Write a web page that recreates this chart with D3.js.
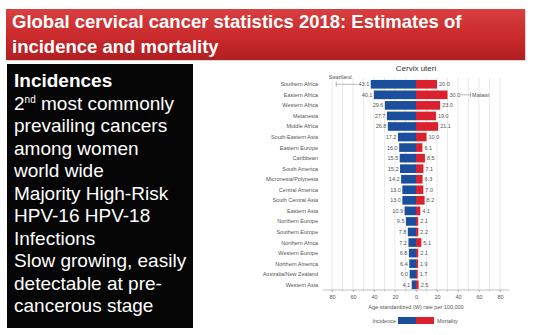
<!DOCTYPE html>
<html>
<head>
<meta charset="utf-8">
<script src="https://cdn.jsdelivr.net/npm/d3@7"></script>
<style>
  body { margin: 0; background: #fff; }
  svg { display: block; font-family: "Liberation Sans", Arial, sans-serif; }
</style>
</head>
<body>
<svg id="slide" width="534" height="335"></svg>
<script>
// regions, top to bottom
var regions = ["Southern Africa", "Eastern Africa", "Western Africa", "Melanesia", "Middle Africa",
  "South-Eastern Asia", "Eastern Europe", "Caribbean", "South America", "Micronesia/Polynesia",
  "Central America", "South Central Asia", "Eastern Asia", "Northern Europe", "Southern Europe",
  "Northern Africa", "Western Europe", "Northern America", "Australia/New Zealand", "Western Asia"];
var incidence = [43.1, 40.1, 29.6, 27.7, 26.8, 17.2, 16.0, 15.5, 15.2, 14.2,
  13.0, 13.0, 10.9, 9.5, 7.8, 7.2, 6.8, 6.4, 6.0, 4.1];
var mortality = [20.0, 30.0, 23.0, 19.0, 21.1, 10.0, 6.1, 8.5, 7.1, 6.3,
  7.0, 8.2, 4.1, 2.1, 2.2, 5.1, 2.1, 1.9, 1.7, 2.5];
var tickVals = [-80, -60, -40, -20, 0, 20, 40, 60, 80];
// country extremes shown as markers
var swaziland = 76.0;   // incidence, Southern Africa row
var malawi = 52.0;      // mortality, Eastern Africa row

var titleLines = ["Global cervical cancer statistics 2018: Estimates of", "incidence and mortality"];

var svg = d3.select("#slide");

// title bar
var defs = svg.append("defs");
var grad = defs.append("linearGradient").attr("id", "redbar")
  .attr("x1", 0).attr("y1", 0).attr("x2", 0).attr("y2", 1);
grad.append("stop").attr("offset", "0%").attr("stop-color", "#d8403f");
grad.append("stop").attr("offset", "55%").attr("stop-color", "#c9292b");
grad.append("stop").attr("offset", "100%").attr("stop-color", "#b21f22");

svg.append("rect").attr("x", 7).attr("y", 10).attr("width", 519).attr("height", 51)
  .attr("fill", "#999").attr("opacity", 0.4);
svg.append("rect").attr("x", 6).attr("y", 9).attr("width", 519).attr("height", 51)
  .attr("fill", "url(#redbar)");

svg.selectAll(".title").data(titleLines).enter().append("text")
  .attr("x", 12)
  .attr("y", function (d, i) { return 28 + i * 25; })
  .attr("fill", "#fff")
  .attr("font-size", 18.5)
  .attr("font-weight", "bold")
  .text(function (d) { return d; });

// black text box
svg.append("rect").attr("x", 7).attr("y", 64).attr("width", 186).attr("height", 264).attr("fill", "#050505");

var bullets = [null, "prevailing cancers", "among women", "world wide", "Majority High-Risk",
  "HPV-16 HPV-18", "Infections", "Slow growing, easily", "detectable at pre-", "cancerous stage"];
var lineY = function (i) { return 87 + i * 22.5; };

svg.append("text").attr("x", 14).attr("y", lineY(0)).attr("fill", "#fff")
  .attr("font-size", 19).attr("font-weight", "bold").text("Incidences");

var l2 = svg.append("text").attr("x", 14).attr("y", lineY(1)).attr("fill", "#fff").attr("font-size", 19);
l2.append("tspan").text("2");
l2.append("tspan").attr("font-size", 10).attr("dy", -7).text("nd");
l2.append("tspan").attr("dy", 7).text(" most commonly");

bullets.forEach(function (t, i) {
  if (t === null) return;
  svg.append("text").attr("x", 14).attr("y", lineY(i + 1)).attr("fill", "#fff")
    .attr("font-size", 19).text(t);
});

// chart
var x = d3.scaleLinear().domain([-80, 80]).range([332, 500]);
var y = d3.scaleBand().domain(regions).range([79, 290]).paddingInner(0.18).paddingOuter(0.09);
var axisY = 290;
var gray = "#555";

svg.append("text").attr("x", x(0)).attr("y", 71).attr("text-anchor", "middle")
  .attr("font-size", 8).attr("fill", "#333").text("Cervix uteri");

// gridlines
svg.append("g").selectAll("line").data(d3.range(-80, 81, 10)).enter().append("line")
  .attr("x1", function (d) { return x(d); }).attr("x2", function (d) { return x(d); })
  .attr("y1", 77).attr("y2", axisY)
  .attr("stroke", "#dcdcdc").attr("stroke-width", 0.6);

// axis
var axis = svg.append("g").attr("transform", "translate(0," + axisY + ")")
  .call(d3.axisBottom(x).tickValues(tickVals).tickSize(2).tickPadding(3)
    .tickFormat(function (d) { return Math.abs(d); }));
axis.select(".domain").remove();
axis.selectAll("line").attr("stroke", "#999").attr("stroke-width", 0.5);
axis.selectAll("text").attr("font-size", 5.5).attr("fill", gray).attr("font-family", "Liberation Sans, Arial, sans-serif");
svg.append("line").attr("x1", x(-89)).attr("x2", x(89)).attr("y1", axisY).attr("y2", axisY)
  .attr("stroke", "#999").attr("stroke-width", 0.6);
svg.append("g").selectAll("line").data(d3.range(-80, 81, 10)).enter().append("line")
  .attr("x1", function (d) { return x(d); }).attr("x2", function (d) { return x(d); })
  .attr("y1", axisY).attr("y2", axisY + 1.5)
  .attr("stroke", "#999").attr("stroke-width", 0.5);

svg.append("text").attr("x", x(0)).attr("y", 309).attr("text-anchor", "middle")
  .attr("font-size", 5.5).attr("fill", gray).text("Age-standardized (W) rate per 100,000");

// category labels
svg.append("g").selectAll("text").data(regions).enter().append("text")
  .attr("x", 318)
  .attr("y", function (d) { return y(d) + y.bandwidth() / 2 + 2; })
  .attr("text-anchor", "end").attr("font-size", 5.5).attr("fill", gray)
  .text(function (d) { return d; });

var blue = "#1c4e9e", red = "#d9222e";

// bars
svg.append("g").selectAll("rect").data(regions).enter().append("rect")
  .attr("x", function (d, i) { return x(-incidence[i]); })
  .attr("y", function (d) { return y(d); })
  .attr("width", function (d, i) { return x(0) - x(-incidence[i]); })
  .attr("height", y.bandwidth())
  .attr("fill", blue);
svg.append("g").selectAll("rect").data(regions).enter().append("rect")
  .attr("x", x(0))
  .attr("y", function (d) { return y(d); })
  .attr("width", function (d, i) { return x(mortality[i]) - x(0); })
  .attr("height", y.bandwidth())
  .attr("fill", red);

// value labels
svg.append("g").selectAll("text").data(regions).enter().append("text")
  .attr("x", function (d, i) { return x(-incidence[i]) - 1.5; })
  .attr("y", function (d) { return y(d) + y.bandwidth() / 2 + 2; })
  .attr("text-anchor", "end").attr("font-size", 5.5).attr("fill", gray)
  .text(function (d, i) { return incidence[i].toFixed(1); });
svg.append("g").selectAll("text").data(regions).enter().append("text")
  .attr("x", function (d, i) { return x(mortality[i]) + 2; })
  .attr("y", function (d) { return y(d) + y.bandwidth() / 2 + 2; })
  .attr("font-size", 5.5).attr("fill", gray)
  .text(function (d, i) { return mortality[i].toFixed(1); });

// Swaziland marker
var sy = y(regions[0]) + y.bandwidth() / 2;
svg.append("line").attr("x1", x(-swaziland)).attr("x2", x(-incidence[0]) - 13)
  .attr("y1", sy).attr("y2", sy).attr("stroke", "#777").attr("stroke-width", 0.5);
svg.append("line").attr("x1", x(-swaziland)).attr("x2", x(-swaziland))
  .attr("y1", sy - 2.5).attr("y2", sy + 2.5).attr("stroke", "#777").attr("stroke-width", 0.6);
svg.append("text").attr("x", x(-swaziland) + 4).attr("y", sy - 5).attr("text-anchor", "middle")
  .attr("font-size", 5).attr("fill", gray).text("Swaziland");

// Malawi marker
var my = y(regions[1]) + y.bandwidth() / 2;
svg.append("line").attr("x1", x(mortality[1]) + 13).attr("x2", x(malawi))
  .attr("y1", my).attr("y2", my).attr("stroke", "#777").attr("stroke-width", 0.5);
svg.append("line").attr("x1", x(malawi)).attr("x2", x(malawi))
  .attr("y1", my - 2.5).attr("y2", my + 2.5).attr("stroke", "#777").attr("stroke-width", 0.6);
svg.append("text").attr("x", x(malawi) + 1.5).attr("y", my + 2).attr("font-size", 5.5)
  .attr("fill", gray).text("Malawi");

// legend
var legY = 317;
svg.append("rect").attr("x", 398).attr("y", legY).attr("width", 18).attr("height", 7).attr("fill", blue);
svg.append("rect").attr("x", 416).attr("y", legY).attr("width", 18).attr("height", 7).attr("fill", red);
svg.append("text").attr("x", 396).attr("y", legY + 5.5).attr("text-anchor", "end")
  .attr("font-size", 5.5).attr("fill", gray).text("Incidence");
svg.append("text").attr("x", 437).attr("y", legY + 5.5)
  .attr("font-size", 5.5).attr("fill", gray).text("Mortality");
</script>
</body>
</html>
